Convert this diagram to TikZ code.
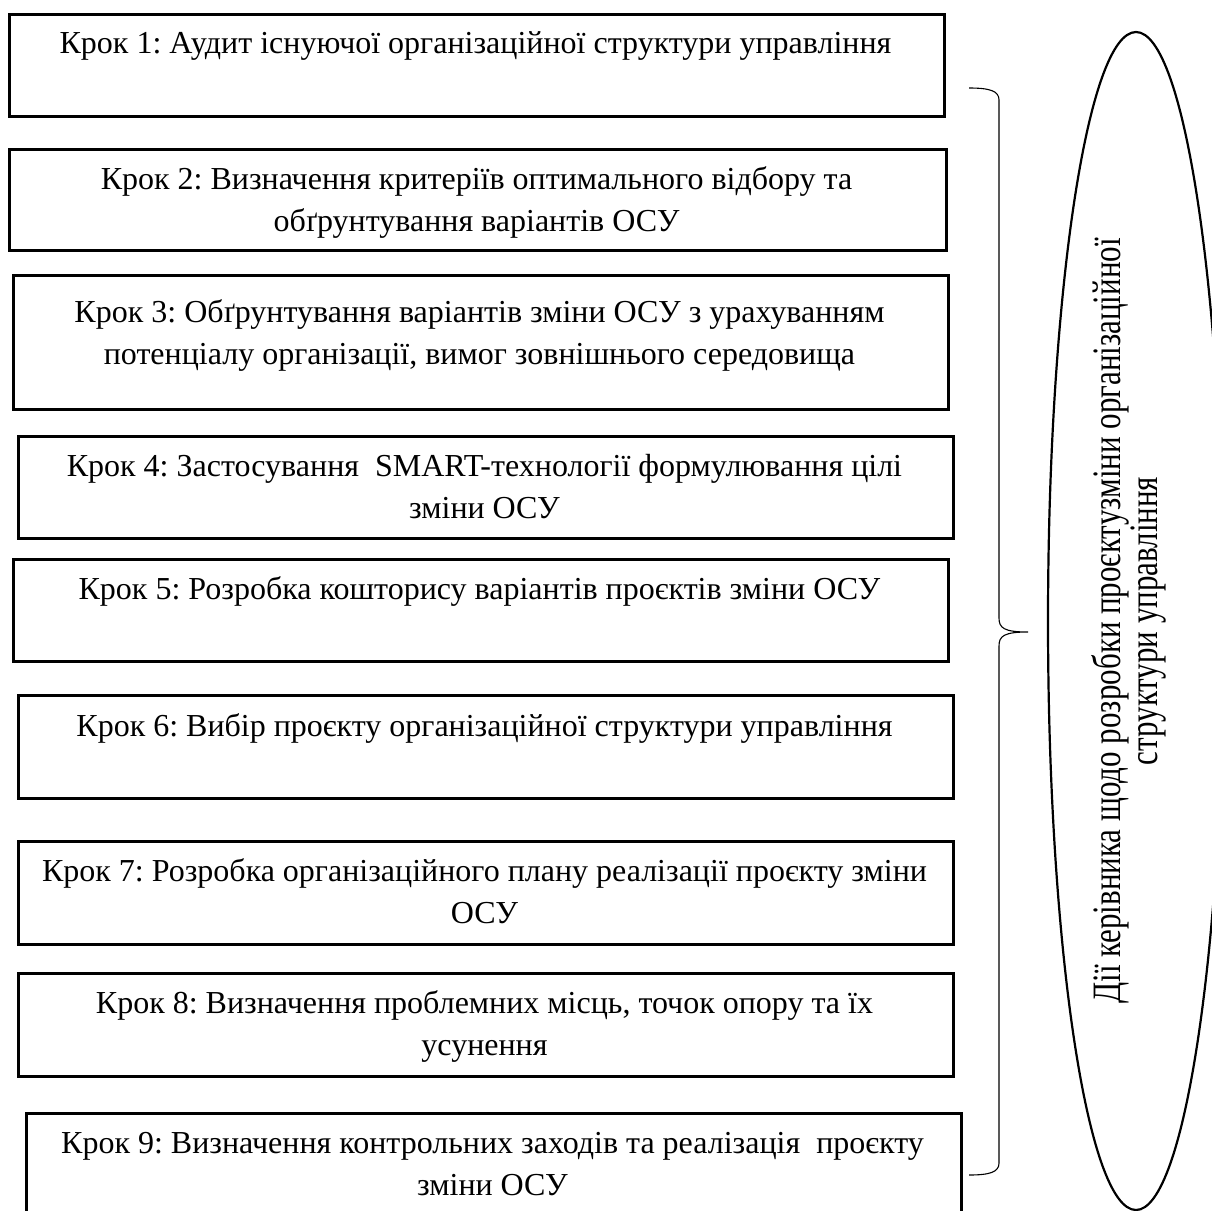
\documentclass[tikz,border=0pt]{standalone}
\usepackage{fontspec}
\usepackage{graphicx}
\setmainfont{Liberation Serif}
\frenchspacing
\usetikzlibrary{shapes.geometric}
\begin{document}
\begin{tikzpicture}[x=1pt,y=-1pt,
  stepbox/.style={draw, line width=2.5pt, inner sep=0pt, anchor=north west, minimum width=935pt, minimum height=102pt},
  steptext/.style={anchor=base, inner sep=0pt, font=\fontsize{32}{42}\selectfont},
  bracepath/.style={line width=1.1pt},
  ellbox/.style={draw, ellipse, line width=2.2pt, inner sep=0pt}
]
\useasboundingbox (0,0) rectangle (1212,1210);

% boxes
\node[stepbox] (b1) at (8,13) {};
\node[stepbox, minimum width=937pt, minimum height=101pt] (b2) at (8,148) {};
\node[stepbox, minimum height=134pt] (b3) at (12,274) {};
\node[stepbox] (b4) at (17,435) {};
\node[stepbox] (b5) at (12,558) {};
\node[stepbox, minimum height=103pt] (b6) at (17,694) {};
\node[stepbox, minimum height=103pt] (b7) at (17,840) {};
\node[stepbox, minimum height=103pt] (b8) at (17,972) {};
\node[stepbox, minimum height=104pt] (b9) at (25,1112) {};

% texts
\node[steptext] (t1) at (475.5,53) {\parbox[t]{1000pt}{\centering Крок 1: Аудит існуючої організаційної структури управління}};
\node[steptext] (t2) at (476.5,189) {\parbox[t]{1000pt}{\centering Крок 2: Визначення критеріїв оптимального відбору та\\обґрунтування варіантів ОСУ}};
\node[steptext] (t3) at (479.5,322) {\parbox[t]{1000pt}{\centering Крок 3: Обґрунтування варіантів зміни ОСУ з урахуванням\\потенціалу організації, вимог зовнішнього середовища}};
\node[steptext] (t4) at (484.5,476) {\parbox[t]{1000pt}{\centering Крок 4: Застосування~ SMART-технології формулювання цілі\\зміни ОСУ}};
\node[steptext] (t5) at (479.5,599) {\parbox[t]{1000pt}{\centering Крок 5: Розробка кошторису варіантів проєктів зміни ОСУ}};
\node[steptext] (t6) at (484.5,736) {\parbox[t]{1000pt}{\centering Крок 6: Вибір проєкту організаційної структури управління}};
\node[steptext] (t7) at (484.5,881) {\parbox[t]{1000pt}{\centering Крок 7: Розробка організаційного плану реалізації проєкту зміни\\ОСУ}};
\node[steptext] (t8) at (484.5,1013) {\parbox[t]{1000pt}{\centering Крок 8: Визначення проблемних місць, точок опору та їх\\усунення}};
\node[steptext] (t9) at (492.5,1153) {\parbox[t]{1000pt}{\centering Крок 9: Визначення контрольних заходів та реалізація~ проєкту\\зміни ОСУ}};

% brace
\coordinate (brtop) at (969,88);
\coordinate (brtip) at (1028,632);
\coordinate (brbot) at (969,1175);
\draw[bracepath] (brtop) .. controls (990,88) and (999,91) .. (999,100) -- (999,618)
  .. controls (999,628) and (1004,632) .. (brtip)
  .. controls (1004,632) and (999,636) .. (999,646) -- (999,1163)
  .. controls (999,1172) and (990,1175) .. (brbot);

% ellipse
\node[ellbox, minimum width=176pt, minimum height=1178pt] (ell) at (1136,621) {};
\node[anchor=base, rotate=90, inner sep=0pt, font=\fontsize{31}{29.2}\selectfont] (et) at (1120,621)
  {\scalebox{1}[1.3]{\parbox[t]{900pt}{\centering Дії керівника щодо розробки проєктузміни організаційної\\структури управління}}};
\end{tikzpicture}
\end{document}
